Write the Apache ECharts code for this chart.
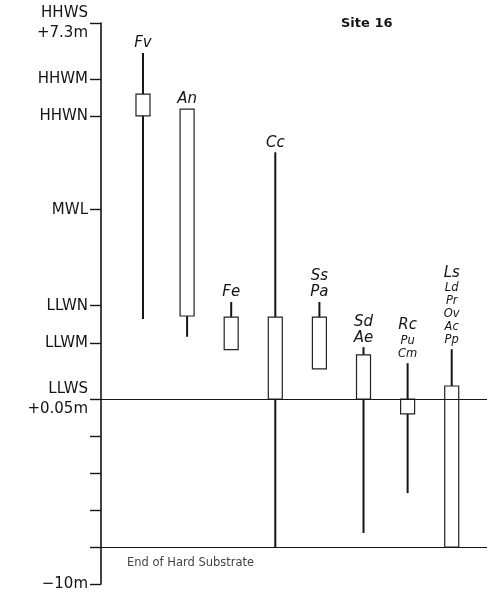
<!DOCTYPE html>
<html>
<head>
<meta charset="utf-8">
<script src="https://cdn.jsdelivr.net/npm/echarts@6/dist/echarts.min.js"></script>
<style>
  html, body { margin: 0; padding: 0; background: #fff; }
  #chart { width: 496px; height: 599px; }
</style>
</head>
<body>
<div id="chart"></div>
<script>
// Tidal reference levels (metres above chart datum) and their axis labels
const levelNames   = ['HHWS\n+7.3m', 'HHWM', 'HHWN', 'MWL', 'LLWN', 'LLWM', 'LLWS\n+0.05m', '', '', '', '', '\u221210m'];
const levelHeights = [7.3, 6.22, 5.51, 3.70, 1.85, 1.13, 0.05, -2, -4, -6, -8, -10];

// Species codes written above each column (large, then small)
const majorLabels = [['Fv'], ['An'], ['Fe'], ['Cc'], ['Ss', 'Pa'], ['Sd', 'Ae'], ['Rc'], ['Ls']];
const minorLabels = [[], [], [], [], [], [], ['Pu', 'Cm'], ['Ld', 'Pr', 'Ov', 'Ac', 'Pp']];

// Vertical range of each group (metres)
const rangeTop    = [6.72, 5.64, 1.92, 4.81, 1.92, 1.05, 0.74, 1.01];
const rangeBottom = [1.59, 1.25, 1.00, -8.0, 0.63, -7.23, -5.06, -8.0];
// Zone of greatest abundance (box)
const zoneTop     = [5.93, 5.64, 1.63, 1.63, 1.63, 0.90, 0.05, 0.30];
const zoneBottom  = [5.51, 1.65, 1.00, 0.05, 0.63, 0.05, -0.76, -8.0];

const LLWS_LEVEL = 0.05;
const HARD_SUBSTRATE_END = -8;

// Below LLWS the vertical scale is compressed (2 m per small division)
const DEEP_RATIO = 0.355;
function toAxis(m) {
  return m >= LLWS_LEVEL ? m : LLWS_LEVEL + (m - LLWS_LEVEL) * DEEP_RATIO;
}

const labelledIdx = levelNames.map((n, i) => n ? i : -1).filter(i => i >= 0);
function levelLabel(v) {
  for (const i of labelledIdx) {
    if (Math.abs(toAxis(levelHeights[i]) - v) < 1e-6) return levelNames[i];
  }
  return '';
}

const FONT = '"DejaVu Sans", "Liberation Sans", sans-serif';

const columnData = rangeTop.map((t, i) => [
  i, toAxis(t), toAxis(rangeBottom[i]), toAxis(zoneTop[i]), toAxis(zoneBottom[i])
]);

function renderColumn(params, api) {
  const i = api.value(0);
  const x = api.coord([i, 0])[0];
  const y1 = api.coord([i, api.value(1)])[1];
  const y2 = api.coord([i, api.value(2)])[1];
  const b1 = api.coord([i, api.value(3)])[1];
  const b2 = api.coord([i, api.value(4)])[1];
  const half = 7;
  const children = [
    { type: 'line', shape: { x1: x, y1: y1, x2: x, y2: y2 },
      style: { stroke: '#151515', lineWidth: 2 } },
    { type: 'rect', shape: { x: x - half, y: b1, width: half * 2, height: b2 - b1 },
      style: { fill: '#fff', stroke: '#222', lineWidth: 1.2 } }
  ];
  // stack the names upward from the top of the range line
  const names = majorLabels[i].map(t => ({ t, major: true }))
    .concat(minorLabels[i].map(t => ({ t, major: false })));
  let yc = y1 - 9.5;
  for (let k = names.length - 1; k >= 0; k--) {
    const n = names[k];
    if (k < names.length - 1) {
      const below = names[k + 1];
      yc -= (n.major && below.major) ? 16 : (n.major ? 15.5 : 12.8);
    }
    children.push({
      type: 'text',
      style: {
        text: n.t, x: x, y: yc, align: 'center', verticalAlign: 'middle',
        font: (n.major ? 'italic 15px ' : 'italic 11.5px ') + FONT,
        fill: '#151515'
      }
    });
  }
  return { type: 'group', children };
}

const chart = echarts.init(document.getElementById('chart'), null, { renderer: 'canvas' });
chart.setOption({
  animation: false,
  backgroundColor: '#fff',
  title: {
    text: 'Site 16', left: 336, top: 12,
    textStyle: { fontSize: 13, fontWeight: 'bold', fontFamily: FONT, color: '#151515' }
  },
  grid: { left: 101, right: 9, top: 23, bottom: 15, outerBoundsMode: 'none' },
  xAxis: { type: 'value', min: -0.952, max: 7.8, show: false },
  yAxis: {
    type: 'value',
    min: toAxis(-10),
    max: 7.3,
    axisLine: { show: true, onZero: false, lineStyle: { color: '#151515', width: 1.6 } },
    axisTick: {
      show: true, length: 11,
      customValues: levelHeights.map(toAxis),
      lineStyle: { color: '#151515', width: 1.4 }
    },
    axisLabel: {
      customValues: labelledIdx.map(i => toAxis(levelHeights[i])),
      formatter: levelLabel,
      margin: 13, fontSize: 15, lineHeight: 20, color: '#151515',
      fontFamily: FONT, hideOverlap: false
    },
    splitLine: { show: false }
  },
  series: [
    {
      type: 'line', data: [], z: 1, silent: true,
      markLine: {
        silent: true, symbol: 'none',
        lineStyle: { color: '#151515', width: 1.2, type: 'solid' },
        label: { show: false },
        data: [
          { yAxis: toAxis(LLWS_LEVEL) },
          {
            yAxis: toAxis(HARD_SUBSTRATE_END),
            label: {
              show: true, formatter: 'End of Hard Substrate',
              position: 'insideStartBottom', padding: [5, 0, 0, 21],
              fontSize: 11.5, color: '#444', fontFamily: FONT
            }
          }
        ]
      }
    },
    {
      type: 'custom', z: 3, silent: true,
      renderItem: renderColumn,
      data: columnData
    }
  ]
});
</script>
</body>
</html>
